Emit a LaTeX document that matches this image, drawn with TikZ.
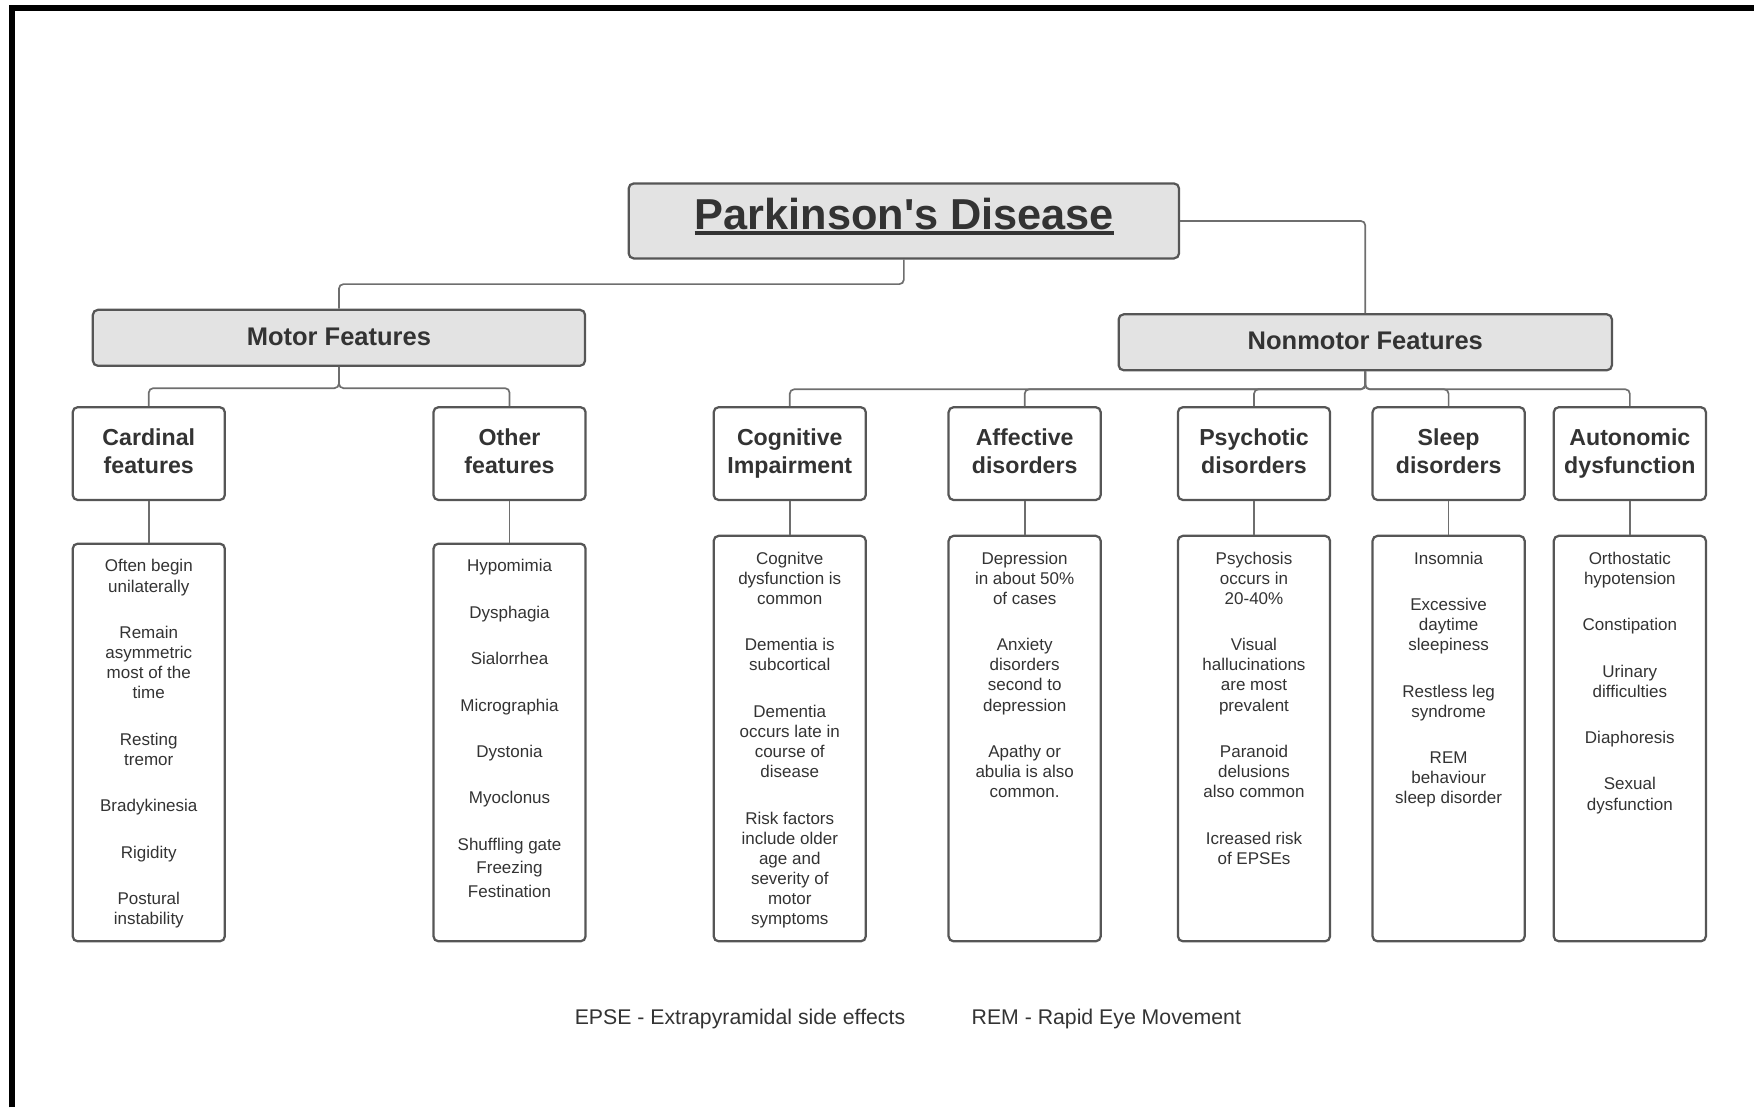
\documentclass[tikz,border=0pt]{standalone}
\usepackage{fontspec}
\setmainfont{Liberation Sans}[Ligatures=TeXOff]
\definecolor{ink}{HTML}{333333}
\definecolor{boxgray}{HTML}{565656}
\definecolor{linkgray}{HTML}{6E6E6E}
\definecolor{hdrfill}{HTML}{E3E3E3}
\newcommand\pdTitle{\fontsize{38.7}{46}\selectfont\bfseries}
\newcommand\pdHead{\fontsize{22.8}{27}\selectfont\bfseries}
\newcommand\pdSub{\fontsize{20.7}{25}\selectfont\bfseries}
\newcommand\pdList{\fontsize{15.2}{18}\selectfont}
\newcommand\pdNote{\fontsize{19}{23}\selectfont}
\begin{document}
\begin{tikzpicture}[x=1pt,y=-1pt,
  boxline/.style={draw=boxgray,line width=2pt,rounded corners=4.5pt},
  mainbox/.style={boxline,fill=hdrfill,inner sep=0pt,text=ink,text depth=2pt},
  subbox/.style={boxline,fill=white,minimum width=136pt,minimum height=83pt,
    inner sep=0pt,text=ink,align=center,font=\pdSub,text depth=4.5pt},
  listbox/.style={boxline,fill=white,minimum width=136pt,inner sep=0pt},
  listtext/.style={anchor=north,inner sep=0pt,align=center,text=ink,font=\pdList},
  link/.style={draw=linkgray,line width=1.5pt,rounded corners=4pt},
  note/.style={inner sep=0pt,text=ink,font=\pdNote}]
\useasboundingbox (0,0) rectangle (1568,990);
% page frame (top and left edges)
\draw[line width=5pt] (10.9,990) -- (10.9,7) -- (1568,7);

% root
\node[mainbox,minimum width=492pt,minimum height=67pt] (pd) at (808,197.5) {};
\node[inner sep=0pt,anchor=base,text=ink,font=\pdTitle] (pdT) at (808.5,205.6) {Parkinson's Disease};
\draw[ink,line width=3.5pt] ([yshift=-3pt]pdT.base west) -- ([yshift=-3pt]pdT.base east);

% main branches
\node[mainbox,minimum width=440pt,minimum height=50pt,font=\pdHead] (motor) at (303,302) {Motor Features};
\node[mainbox,minimum width=441pt,minimum height=50pt,font=\pdHead] (nonmotor) at (1220.5,306) {Nonmotor Features};

% category boxes
\node[subbox] (card) at (133,405.5) {Cardinal\\features};
\node[subbox] (other) at (455.5,405.5) {Other\\features};
\node[subbox] (cog) at (706,405.5) {Cognitive\\Impairment};
\node[subbox] (aff) at (916,405.5) {Affective\\disorders};
\node[subbox] (psy) at (1121,405.5) {Psychotic\\disorders};
\node[subbox] (slp) at (1295,405.5) {Sleep\\disorders};
\node[subbox] (aut) at (1457,405.5) {Autonomic\\dysfunction};

% detail boxes
\node[listbox,minimum height=355.5pt] (cardL) at (133,663.75) {};
\node[listbox,minimum height=355.5pt] (otherL) at (455.5,663.75) {};
\node[listbox,minimum height=362.5pt] (cogL) at (706,660.25) {};
\node[listbox,minimum height=362.5pt] (affL) at (916,660.25) {};
\node[listbox,minimum height=362.5pt] (psyL) at (1121,660.25) {};
\node[listbox,minimum height=362.5pt] (slpL) at (1295,660.25) {};
\node[listbox,minimum height=362.5pt] (autL) at (1457,660.25) {};

\node[listtext] (cardT) at (133,500) {Often begin\\unilaterally\\[23.5pt]Remain\\asymmetric\\most of the\\time\\[23.5pt]Resting\\tremor\\[23.5pt]Bradykinesia\\[23.5pt]Rigidity\\[23.5pt]Postural\\instability};
\node[listtext] (otherT) at (455.5,500) {Hypomimia\\[23.5pt]Dysphagia\\[23.5pt]Sialorrhea\\[23.5pt]Micrographia\\[23.5pt]Dystonia\\[23.5pt]Myoclonus\\[23.5pt]Shuffling gate\\[3pt]Freezing\\[3pt]Festination};
\node[listtext] (cogT) at (706,493) {Cognitve\\dysfunction is\\common\\[23.5pt]Dementia is\\subcortical\\[23.5pt]Dementia\\occurs late in\\course of\\disease\\[23.5pt]Risk factors\\include older\\age and\\severity of\\motor\\symptoms};
\node[listtext] (affT) at (916,493) {Depression\\in about 50\%\\of cases\\[23.5pt]Anxiety\\disorders\\second to\\depression\\[23.5pt]Apathy or\\abulia is also\\common.};
\node[listtext] (psyT) at (1121,493) {Psychosis\\occurs in\\20-40\%\\[23.5pt]Visual\\hallucinations\\are most\\prevalent\\[23.5pt]Paranoid\\delusions\\also common\\[23.5pt]Icreased risk\\of EPSEs};
\node[listtext] (slpT) at (1295,493) {Insomnia\\[23.5pt]Excessive\\daytime\\sleepiness\\[23.5pt]Restless leg\\syndrome\\[23.5pt]REM\\behaviour\\sleep disorder};
\node[listtext] (autT) at (1457,493) {Orthostatic\\hypotension\\[23.5pt]Constipation\\[23.5pt]Urinary\\difficulties\\[23.5pt]Diaphoresis\\[23.5pt]Sexual\\dysfunction};

% connectors
\draw[link] (pd.south) -- ++(0,22) -| (motor.north);
\draw[link] (pd.east) -| (nonmotor.north);
\foreach \c in {card,other}
  \draw[link] (motor.south) -- ++(0,19) -| (\c.north);
\foreach \c in {cog,aff,psy,slp,aut}
  \draw[link] (nonmotor.south) -- ++(0,16) -| (\c.north);
\foreach \c in {card,other,cog,aff,psy,slp,aut}
  \draw[link] (\c.south) -- (\c L.north);

% abbreviations
\node[note] (epse) at (661.5,910.5) {EPSE - Extrapyramidal side effects};
\node[note] (rem) at (989,910.5) {REM - Rapid Eye Movement};
\end{tikzpicture}
\end{document}
